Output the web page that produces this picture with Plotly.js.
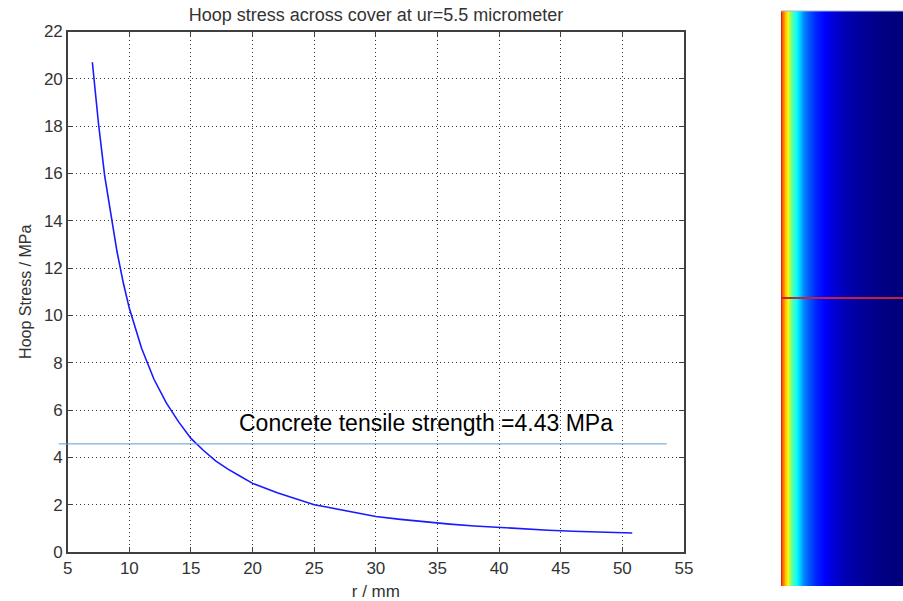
<!DOCTYPE html>
<html><head><meta charset="utf-8">
<script src="https://cdn.plot.ly/plotly-3.0.1.min.js"></script>
<style>html,body{margin:0;padding:0;background:#fff}#chart{width:903px;height:601px}</style>
</head><body><div id="chart"></div>
<script>
// Data
const radius = [7.0, 7.5, 8, 8.5, 9, 9.5, 10, 11, 12, 13, 14, 15, 16, 17, 18, 19, 20, 22, 24, 25, 26, 28, 30, 32, 34, 36, 38, 40, 42, 44, 46, 48, 50, 50.8];
const hoopStress = [20.7, 18.1, 15.9, 14.2, 12.7, 11.4, 10.3, 8.6, 7.3, 6.3, 5.5, 4.8, 4.3, 3.85, 3.5, 3.2, 2.9, 2.5, 2.15, 2.0, 1.9, 1.7, 1.5, 1.38, 1.27, 1.18, 1.1, 1.03, 0.97, 0.92, 0.88, 0.84, 0.81, 0.8];
const strengthLevel = 4.57;
const strengthLabel = "Concrete tensile strength =4.43 MPa";
const xTicks = [5, 10, 15, 20, 25, 30, 35, 40, 45, 50, 55];
const yTicks = [0, 2, 4, 6, 8, 10, 12, 14, 16, 18, 20, 22];
const fieldRows = [0, 1];

const W = 903, H = 601;
const px = v => v / W, py = v => 1 - v / H;
const font = "Liberation Sans, Arial, sans-serif";

const traces = [
  {x: radius, y: hoopStress, type: 'scatter', mode: 'lines',
   line: {color: '#1a1aff', width: 1.6}, xaxis: 'x', yaxis: 'y', hoverinfo: 'skip'},
  {x: radius, y: fieldRows, z: fieldRows.map(() => hoopStress.slice()), type: 'heatmap',
   xaxis: 'x2', yaxis: 'y2', showscale: false, zsmooth: 'best',
   colorscale: [[0, '#00007a'], [0.08, '#0000ff'], [0.3, '#00ffff'], [0.55, '#ffff00'], [0.8, '#ff8000'], [1, '#e82010']],
   hoverinfo: 'skip'}
];

const axisCommon = {
  showline: true, linecolor: '#404040', linewidth: 1.5, mirror: 'ticks',
  ticks: 'inside', ticklen: 5, tickcolor: '#404040', tickwidth: 1,
  showgrid: true, gridcolor: '#333', griddash: '1px,3px', gridwidth: 1,
  zeroline: false, tickfont: {family: font, size: 17, color: '#333'}
};

const layout = {
  width: W, height: H, margin: {l: 0, r: 0, t: 0, b: 0},
  paper_bgcolor: '#fff', plot_bgcolor: '#fff', showlegend: false,
  title: {text: 'Hoop stress across cover at ur=5.5 micrometer', x: px(376), xanchor: 'center',
          y: py(15), yanchor: 'middle', yref: 'container', font: {family: font, size: 18, color: '#333'}},
  xaxis: Object.assign({}, axisCommon, {domain: [px(67.7), px(684)], range: [5, 55],
          tickvals: xTicks, ticktext: xTicks.map(String), anchor: 'y',
          title: {text: 'r / mm', font: {family: font, size: 17, color: '#333'}, standoff: 10}}),
  yaxis: Object.assign({}, axisCommon, {domain: [1 - 552 / H, 1 - 31.5 / H], range: [0, 22],
          tickvals: yTicks, ticktext: yTicks.map(String), anchor: 'x',
          title: {text: 'Hoop Stress / MPa', font: {family: font, size: 16, color: '#333'}, standoff: 8}}),
  xaxis2: {domain: [px(781), 1], range: [radius[0], radius[radius.length - 1]], anchor: 'y2',
           visible: false, showgrid: false, zeroline: false},
  yaxis2: {domain: [1 - 586 / H, 1 - 11 / H], range: [-0.5, 1.5], anchor: 'x2',
           visible: false, showgrid: false, zeroline: false},
  shapes: [
    {type: 'line', xref: 'paper', yref: 'y', x0: px(58.7), x1: px(666.7), y0: strengthLevel, y1: strengthLevel,
     line: {color: '#5b9bd5', width: 1}},
    {type: 'line', xref: 'paper', yref: 'paper', x0: px(781), x1: 1, y0: py(298), y1: py(298),
     line: {color: '#c8203a', width: 2}},
    {type: 'line', xref: 'paper', yref: 'paper', x0: px(781), x1: 1, y0: py(11), y1: py(11),
     line: {color: '#a8b0d8', width: 1}}
  ],
  annotations: [
    {text: strengthLabel, xref: 'paper', yref: 'paper', x: px(426), y: py(423),
     xanchor: 'center', yanchor: 'middle', showarrow: false,
     font: {family: font, size: 23, color: '#000'}}
  ]
};

Plotly.newPlot('chart', traces, layout, {staticPlot: true, displayModeBar: false});
</script>
</body></html>
